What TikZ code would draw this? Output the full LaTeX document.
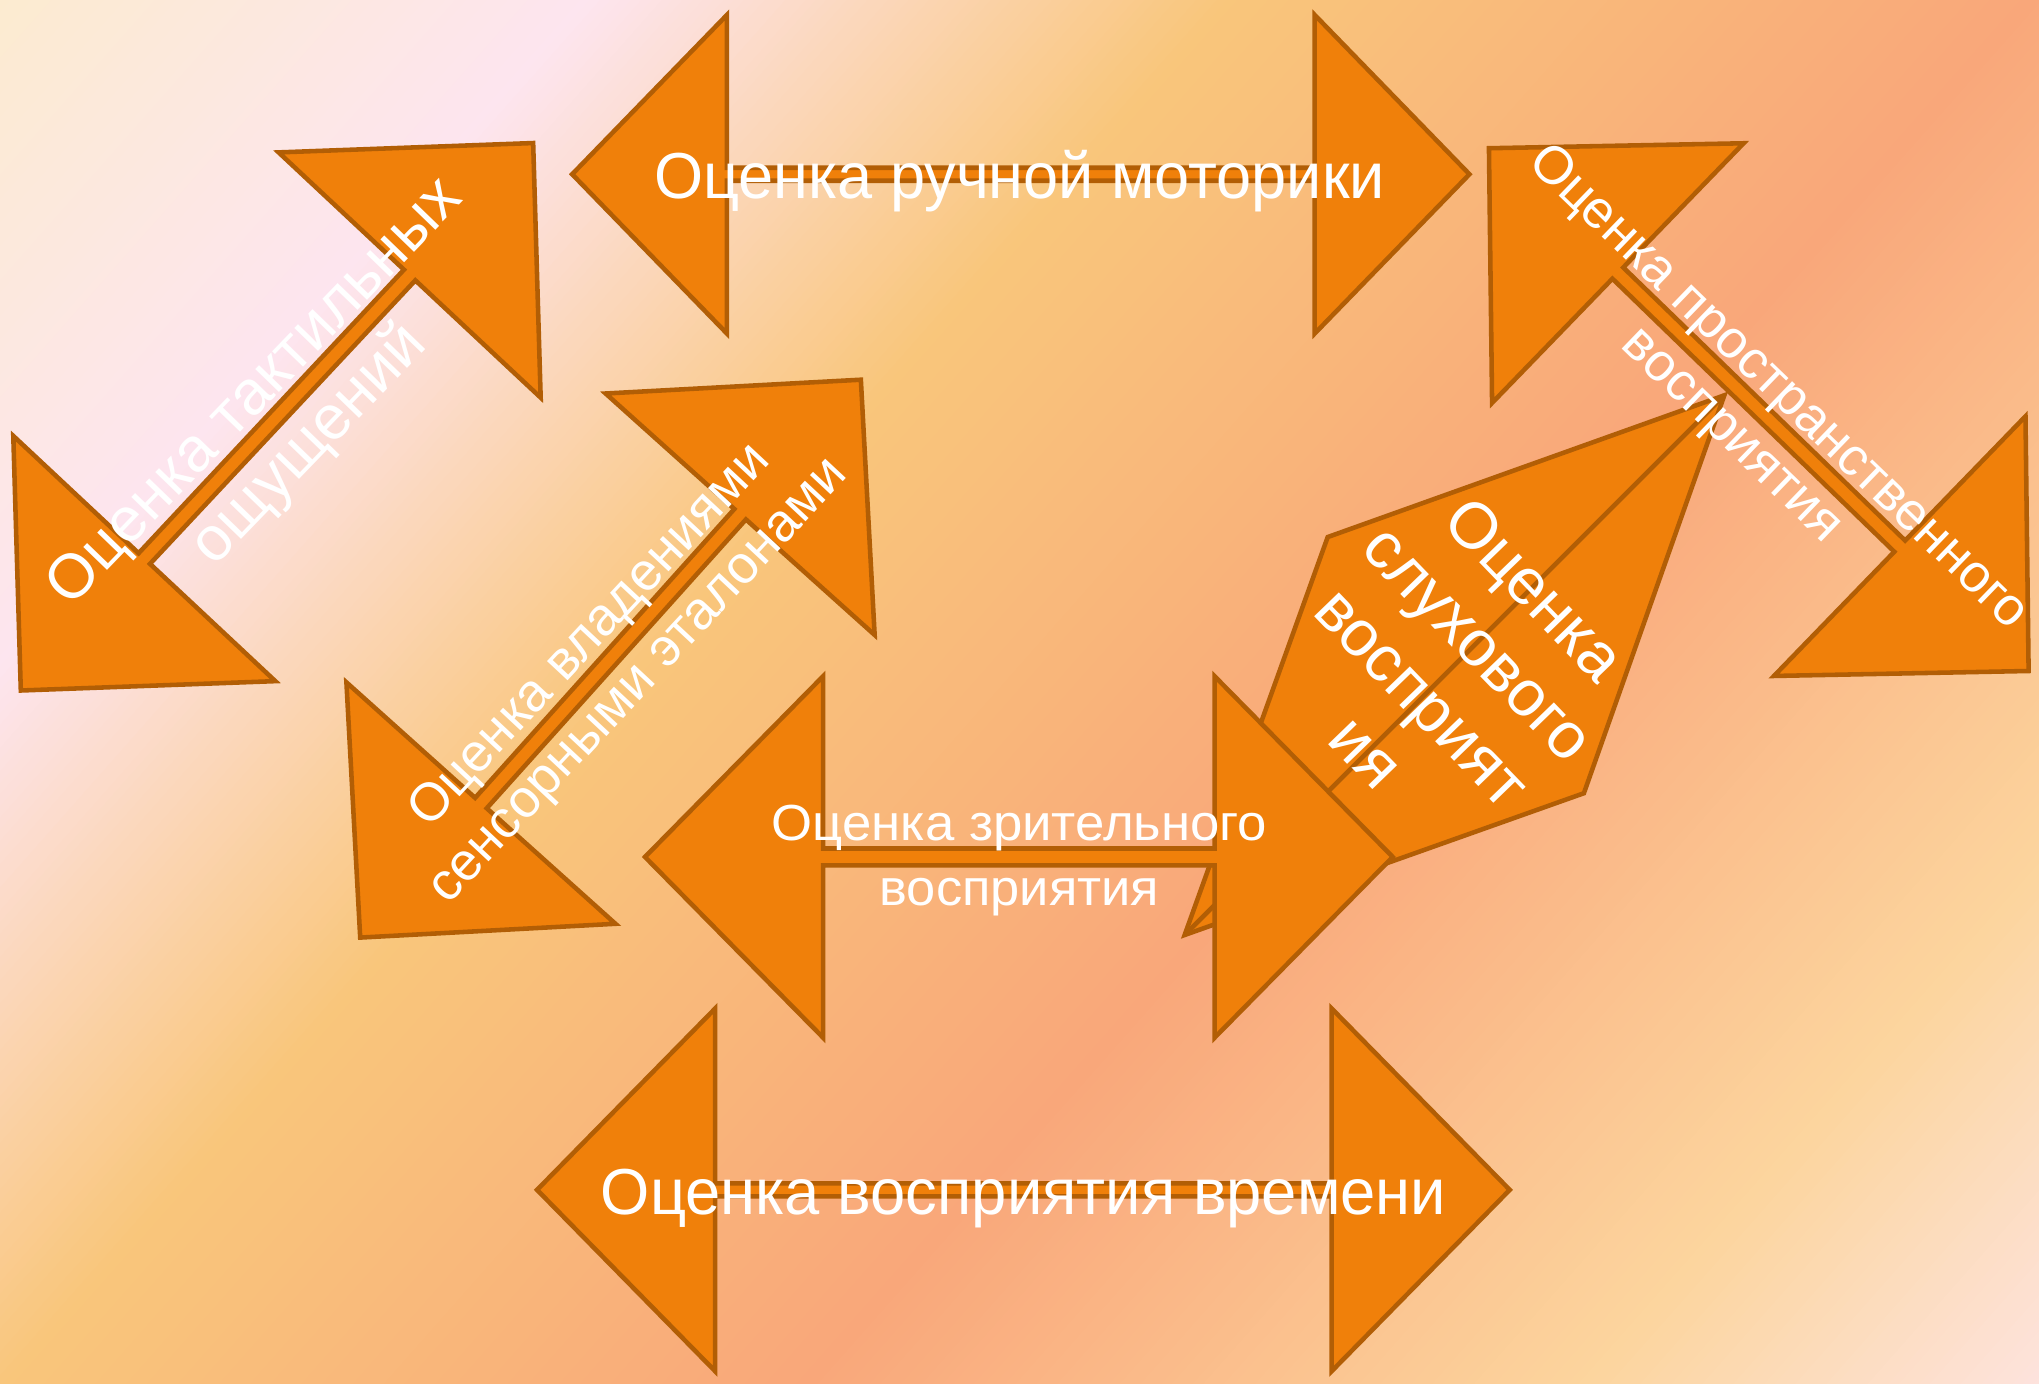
\documentclass[tikz,border=0pt]{standalone}
\usepackage{fontspec}
\setmainfont{Liberation Sans}
\usetikzlibrary{calc}

\definecolor{arrowfill}{HTML}{F0800A}
\definecolor{arrowline}{HTML}{B25E05}
\definecolor{bgcream}{HTML}{FCEBD0}
\definecolor{bgpink}{HTML}{FDE5EF}
\definecolor{bgyellow}{HTML}{F9C67B}
\definecolor{bgsalmon}{HTML}{F9A77A}
\definecolor{bgpeach}{HTML}{FCD59E}
\definecolor{bgrose}{HTML}{FDE4E2}

% double arrow: #1,#2 tips, #3 head length, #4 head half width, #5 shaft half width
\newcommand{\dblarrow}[5]{%
  \coordinate (p1) at ($(#1)!#3!(#2)$);
  \coordinate (p2) at ($(#2)!#3!(#1)$);
  \filldraw[arrowshape] (#1)
    -- ($(p1)!#4!90:(#2)$) -- ($(p1)!#5!90:(#2)$)
    -- ($(p2)!#5!-90:(#1)$) -- ($(p2)!#4!-90:(#1)$)
    -- (#2)
    -- ($(p2)!#4!90:(#1)$) -- ($(p2)!#5!90:(#1)$)
    -- ($(p1)!#5!-90:(#2)$) -- ($(p1)!#4!-90:(#2)$)
    -- cycle;
}

\begin{document}
\begin{tikzpicture}[
  x=1pt, y=-1pt,
  arrowshape/.style={fill=arrowfill, draw=arrowline, line width=3.5pt},
  lbl/.style={text=white, align=center, inner sep=0pt},
  bigfont/.style={font=\fontsize{50}{58}\selectfont},
  midfont/.style={font=\fontsize{41}{51}\selectfont},
  smallfont/.style={font=\fontsize{39}{50}\selectfont},
]
  \useasboundingbox (0,0) rectangle (1568,1064);

  % background gradient
  \begin{scope}
    \clip (0,0) rectangle (1568,1064);
    \foreach \sa/\ca/\sb/\cb in {0/bgcream/340/bgpink, 340/bgpink/707/bgyellow,
        707/bgyellow/1170/bgsalmon, 1170/bgsalmon/1620/bgpeach, 1620/bgpeach/1900/bgrose}{
      \pgfmathtruncatemacro\n{ceil((\sb-\sa)/6)}
      \foreach \k in {1,...,\n}{
        \pgfmathsetmacro\pa{\sa+(\k-1)/\n*(\sb-\sa)}
        \pgfmathsetmacro\pb{\pa+(\sb-\sa)/\n+1}
        \pgfmathsetmacro\pct{100*(\k-0.5)/\n}
        \colorlet{bgstrip}{\cb!\pct!\ca}
        \fill[bgstrip, rotate=-41.5] (\pa,-3000) rectangle (\pb,3000);
      }
    }
  \end{scope}

  % tips
  \coordinate (tact1) at (16,531);
  \coordinate (tact2) at (410,110);
  \coordinate (mot1) at (440,134);
  \coordinate (mot2) at (1130,134);
  \coordinate (spat1) at (1145,114);
  \coordinate (spat2) at (1560,516);
  \coordinate (sens1) at (277,721);
  \coordinate (sens2) at (662,292);
  \coordinate (aud1) at (911,719);
  \coordinate (aud2) at (1326,304);
  \coordinate (vis1) at (496,659);
  \coordinate (vis2) at (1071,659);
  \coordinate (time1) at (413,915);
  \coordinate (time2) at (1161,915);

  \dblarrow{tact1}{tact2}{139pt}{138pt}{6pt}
  \dblarrow{mot1}{mot2}{119pt}{122.5pt}{5pt}
  \dblarrow{sens1}{sens2}{139pt}{139pt}{6pt}
  % hearing: heads meet
  \filldraw[arrowshape] (aud1) -- (1021,413) -- (aud2) -- (1218,610) -- cycle;
  \draw[arrowline, line width=3.5pt] (aud1) -- (aud2);
  \dblarrow{spat1}{spat2}{138pt}{139pt}{6pt}
  \dblarrow{vis1}{vis2}{137pt}{139pt}{6.5pt}
  \dblarrow{time1}{time2}{137pt}{139.5pt}{5pt}

  % labels
  \node[lbl, font=\fontsize{48}{58}\selectfont, rotate=46] (tacttxt) at (218,323) {Оценка тактильных\\ощущений};
  \node[lbl, bigfont, anchor=base] (mottxt) at (784,153) {\resizebox{562pt}{\height}{Оценка ручной моторики}};
  \node[lbl, midfont, rotate=-44] (spattxt) at (1349,317) {Оценка пространственного\\восприятия};
  \node[lbl, midfont, rotate=47] (senstxt) at (473,507) {Оценка владениями\\сенсорными эталонами};
  \node[lbl, font=\fontsize{50}{60}\selectfont, rotate=-46] (audtxt) at (1116,515) {Оценка\\слухового\\восприят\\ия};
  \node[lbl, smallfont] (vistxt) at (784,662) {\resizebox{381pt}{\height}{Оценка зрительного}\\\resizebox{215pt}{\height}{восприятия}};
  \node[lbl, bigfont, anchor=base] (timetxt) at (787,934) {\resizebox{650pt}{\height}{Оценка восприятия времени}};
\end{tikzpicture}
\end{document}
